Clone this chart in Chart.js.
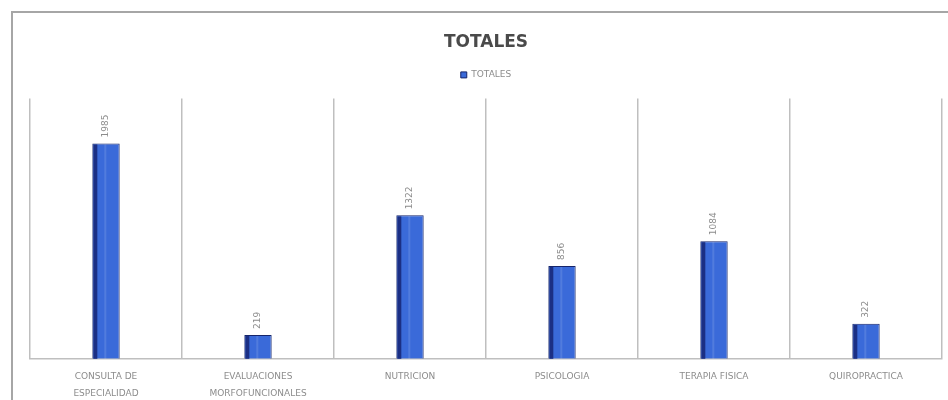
<!DOCTYPE html>
<html>
<head>
<meta charset="utf-8">
<script src="https://cdn.jsdelivr.net/npm/chart.js@4/dist/chart.umd.min.js"></script>
<style>
    html, body { margin: 0; padding: 0; background: #fff; }
    #wrap { position: relative; width: 948px; height: 400px; overflow: hidden; }
    #frame { position: absolute; left: 11px; top: 11px; width: 960px; height: 420px; border: 2px solid #a6a6a6; box-sizing: border-box; }
    canvas { position: absolute; left: 0; top: 0; }
</style>
</head>
<body>
<div id="wrap">
    <div id="frame"></div>
    <canvas id="chart" width="948" height="400"></canvas>
</div>
<script>
const categories = [
    ['CONSULTA DE', 'ESPECIALIDAD'],
    ['EVALUACIONES', 'MORFOFUNCIONALES'],
    'NUTRICION',
    'PSICOLOGIA',
    'TERAPIA FISICA',
    'QUIROPRACTICA'
];
const totals = [1985, 219, 1322, 856, 1084, 322];
const seriesName = 'TOTALES';

// extra space under the legend
const legendMargin = {
    id: 'legendMargin',
    beforeInit(chart) {
        const fit = chart.legend.fit;
        chart.legend.fit = function () {
            fit.call(this);
            this.height += 9;
        };
    }
};

// dark left face on each bar + rotated value labels
const barDecor = {
    id: 'barDecor',
    afterDatasetsDraw(chart) {
        const ctx = chart.ctx;
        const meta = chart.getDatasetMeta(0);
        ctx.save();
        meta.data.forEach((bar, i) => {
            const left = bar.x - bar.width / 2;
            ctx.fillStyle = '#1b2f84';
            ctx.fillRect(left + 1, bar.y + 1, 4, bar.base - bar.y - 1);
            ctx.fillStyle = 'rgba(255,255,255,0.12)';
            ctx.fillRect(left + 12, bar.y + 1, 2, bar.base - bar.y - 1);
        });
        ctx.font = '9px "DejaVu Sans"';
        ctx.fillStyle = '#8c8c8c';
        ctx.textAlign = 'left';
        ctx.textBaseline = 'middle';
        meta.data.forEach((bar, i) => {
            ctx.save();
            ctx.translate(bar.x, bar.y - 6);
            ctx.rotate(-Math.PI / 2);
            ctx.fillText(String(totals[i]), 0, 0);
            ctx.restore();
        });
        ctx.restore();
    }
};

new Chart(document.getElementById('chart'), {
    type: 'bar',
    data: {
        labels: categories,
        datasets: [{
            label: seriesName,
            data: totals,
            backgroundColor: '#3a6ad9',
            borderColor: '#16256a',
            borderWidth: 1,
            barPercentage: 1,
            categoryPercentage: 0.18
        }]
    },
    options: {
        responsive: false,
        animation: false,
        layout: { padding: { left: 30, right: 6, top: 32, bottom: -11 } },
        scales: {
            x: {
                offset: true,
                grid: { offset: true, color: '#bfbfbf', lineWidth: 1.5, drawTicks: false },
                border: { color: '#bfbfbf', width: 1.5 },
                ticks: {
                    color: '#8c8c8c',
                    font: { size: 9, family: '"DejaVu Sans"', lineHeight: 1.9 },
                    padding: 9,
                    maxRotation: 0,
                    autoSkip: false
                }
            },
            y: {
                display: false,
                min: 0,
                max: 2400
            }
        },
        plugins: {
            title: {
                display: true,
                text: seriesName,
                color: '#4a4a4a',
                font: { size: 17, family: '"DejaVu Sans"', weight: 'bold' },
                padding: { top: 0, bottom: 12 }
            },
            legend: {
                display: true,
                labels: {
                    boxWidth: 6,
                    boxHeight: 6,
                    color: '#8c8c8c',
                    font: { size: 9, family: '"DejaVu Sans"' },
                    padding: 6
                }
            },
            tooltip: { enabled: false }
        }
    },
    plugins: [legendMargin, barDecor]
});
</script>
</body>
</html>
